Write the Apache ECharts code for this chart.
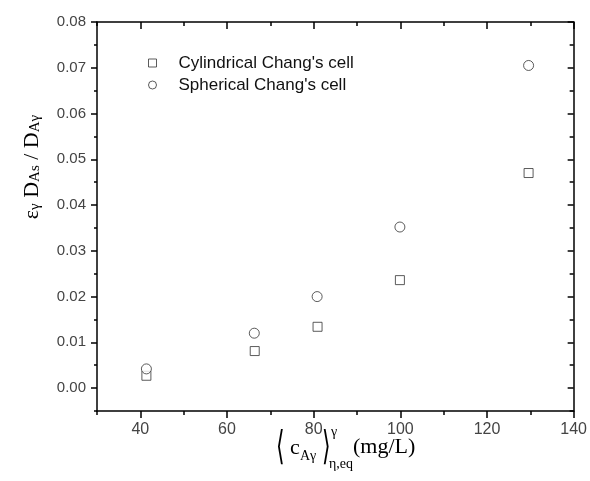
<!DOCTYPE html>
<html>
<head>
<meta charset="utf-8">
<script src="https://cdn.jsdelivr.net/npm/echarts@6/dist/echarts.min.js"></script>
<style>html,body{margin:0;padding:0;background:#fff}#c{width:590px;height:481px}</style>
</head>
<body>
<div id="c"></div>
<script>
// ---- data ----
const seriesNames = ["Cylindrical Chang's cell", "Spherical Chang's cell"];
const xCyl = [41.4, 66.4, 80.9, 99.9, 129.6];
const yCyl = [0.0027, 0.0081, 0.0134, 0.0236, 0.0470];
const xSph = [41.4, 66.3, 80.8, 99.9, 129.6];
const ySph = [0.0042, 0.0120, 0.0200, 0.0352, 0.0705];
const xMajorTicks = [40, 60, 80, 100, 120, 140];
const xMinorTicks = [30, 50, 70, 90, 110, 130];
const yMajorTicks = [0.00, 0.01, 0.02, 0.03, 0.04, 0.05, 0.06, 0.07, 0.08];
const yMinorTicks = [-0.005, 0.005, 0.015, 0.025, 0.035, 0.045, 0.055, 0.065, 0.075];

const chart = echarts.init(document.getElementById('c'), null, {renderer: 'canvas'});
const lineStyle = {color: '#000', width: 1.5};
const tickFont = {fontFamily: 'Liberation Sans, Arial, sans-serif', color: '#444'};

function xAx(pos, vals, len, inside, showLine, showLabel) {
  return {
    type: 'value', position: pos, min: 30, max: 140, interval: 10,
    axisLine: {show: showLine, onZero: false, lineStyle: lineStyle},
    axisTick: {show: true, inside: inside, length: len, customValues: vals, lineStyle: {color: '#000', width: 1.5}},
    axisLabel: {show: showLabel, customValues: vals, margin: 11, fontSize: 16, ...tickFont},
    splitLine: {show: false}
  };
}
function yAx(pos, vals, len, inside, showLine, showLabel) {
  return {
    type: 'value', position: pos, min: -0.005, max: 0.08, interval: 0.005,
    axisLine: {show: showLine, onZero: false, lineStyle: lineStyle},
    axisTick: {show: true, inside: inside, length: len, customValues: vals, lineStyle: {color: '#000', width: 1.5}},
    axisLabel: {show: showLabel, customValues: vals, margin: 11, fontSize: 15, ...tickFont,
      formatter: v => v.toFixed(2)},
    splitLine: {show: false}
  };
}

const markerStyle = {color: '#fff', borderColor: '#333', borderWidth: 1};
const serif = 'Liberation Serif, Times New Roman, serif';

chart.setOption({
  animation: false,
  backgroundColor: '#fff',
  grid: {left: 97, right: 15, top: 22, bottom: 70, containLabel: false},
  xAxis: [
    xAx('bottom', xMajorTicks, 7, false, true, true),
    xAx('bottom', xMinorTicks, 4, false, false, false),
    xAx('top', xMajorTicks, 7, true, true, false),
    xAx('top', xMinorTicks, 4, true, false, false)
  ],
  yAxis: [
    yAx('left', yMajorTicks, 6, false, true, true),
    yAx('left', yMinorTicks, 3, false, false, false),
    yAx('right', yMajorTicks, 6, true, true, false),
    yAx('right', yMinorTicks, 4, true, false, false)
  ],
  legend: {
    orient: 'vertical', left: 143, top: 48,
    itemWidth: 8, itemHeight: 8, itemGap: 2,
    itemStyle: {borderWidth: 1, borderColor: '#333', color: '#fff'},
    formatter: name => '{g|}' + name,
    textStyle: {fontFamily: 'Liberation Sans, Arial, sans-serif', fontSize: 17, color: '#111', lineHeight: 20,
      rich: {g: {width: 17}}},
    data: seriesNames
  },
  series: [
    {name: seriesNames[0], type: 'scatter', symbol: 'rect', symbolSize: 9,
     itemStyle: markerStyle, data: xCyl.map((x, i) => [x, yCyl[i]])},
    {name: seriesNames[1], type: 'scatter', symbol: 'circle', symbolSize: 10,
     itemStyle: markerStyle, data: xSph.map((x, i) => [x, ySph[i]])}
  ],
  graphic: [
    {type: 'text', x: 30, y: 167, rotation: Math.PI / 2,
     style: {text: '{m|ε}{s|γ}{m| D}{s|As}{m| / D}{s|Aγ}', align: 'center', verticalAlign: 'middle',
       rich: {
         m: {fontFamily: serif, fontSize: 22, fill: '#000', verticalAlign: 'bottom', lineHeight: 26},
         s: {fontFamily: serif, fontSize: 15, fill: '#000', verticalAlign: 'bottom', lineHeight: 20}
       }}},
    {type: 'text', x: 276, y: 449, scaleY: 1.8, style: {text: '⟨', fontFamily: 'DejaVu Serif, serif', fontSize: 22, fill: '#000', verticalAlign: 'middle'}},
    {type: 'text', x: 290, y: 448, style: {text: 'c', fontFamily: serif, fontSize: 22, fill: '#000', verticalAlign: 'middle'}},
    {type: 'text', x: 300, y: 456, style: {text: 'Aγ', fontFamily: serif, fontSize: 14, fill: '#000', verticalAlign: 'middle'}},
    {type: 'text', x: 322, y: 449, scaleY: 1.8, style: {text: '⟩', fontFamily: 'DejaVu Serif, serif', fontSize: 22, fill: '#000', verticalAlign: 'middle'}},
    {type: 'text', x: 331, y: 432, style: {text: 'γ', fontFamily: serif, fontSize: 14, fill: '#000', verticalAlign: 'middle'}},
    {type: 'text', x: 329, y: 464, style: {text: 'η,eq', fontFamily: serif, fontSize: 14, fill: '#000', verticalAlign: 'middle'}},
    {type: 'text', x: 353, y: 447, style: {text: '(mg/L)', fontFamily: serif, fontSize: 22, fill: '#000', verticalAlign: 'middle'}}
  ]
});
</script>
</body>
</html>
